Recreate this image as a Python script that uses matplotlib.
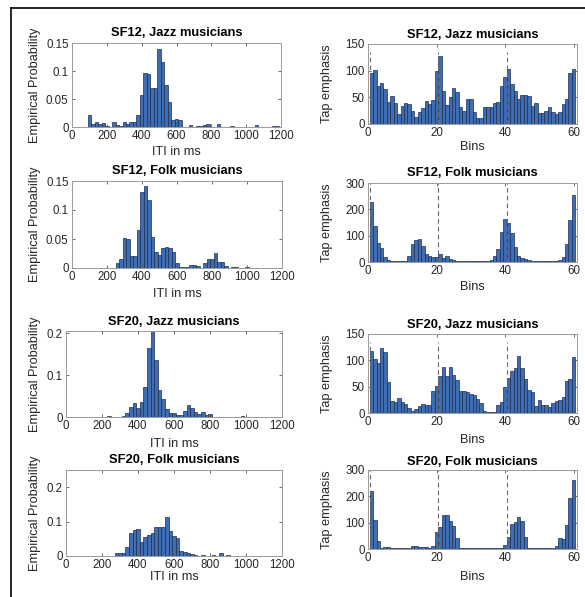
import numpy as np
import matplotlib.pyplot as plt
from matplotlib.lines import Line2D

# ITI histograms: 20 ms bins starting at 90 ms (55 bins)
iti_start = 90
iti_width = 20
sf12_jazz_iti = [0.022, 0.005, 0.009, 0.005, 0.007, 0.002, 0, 0.009, 0.004, 0.002,
                 0.009, 0.005, 0.009, 0.009, 0.022, 0.057, 0.097, 0.095, 0.07, 0.07,
                 0.14, 0.116, 0.075, 0.045, 0.013, 0.015, 0.013, 0, 0, 0.003,
                 0, 0.002, 0.002, 0.003, 0.005, 0, 0, 0.005, 0, 0,
                 0, 0.002, 0, 0, 0, 0, 0, 0, 0.004, 0,
                 0, 0, 0, 0.002, 0.002]
sf12_folk_iti = [0, 0, 0, 0, 0, 0, 0, 0, 0.008, 0.016,
                 0.052, 0.050, 0.021, 0.021, 0.066, 0.131, 0.141, 0.117, 0.054, 0.027,
                 0.023, 0.035, 0.036, 0.035, 0.027, 0.009, 0.002, 0.002, 0.002, 0.005,
                 0.005, 0.003, 0, 0.008, 0.015, 0.015, 0.026, 0.011, 0.010, 0.004,
                 0, 0.002, 0.002, 0, 0, 0.002, 0, 0, 0, 0,
                 0, 0, 0, 0, 0]
sf20_jazz_iti = [0, 0.001, 0.001, 0, 0.001, 0.001, 0, 0.003, 0.001, 0,
                 0, 0.003, 0.009, 0.025, 0.033, 0.021, 0.036, 0.071, 0.164, 0.205,
                 0.136, 0.065, 0.044, 0.020, 0.010, 0.010, 0.004, 0.004, 0.014, 0.029,
                 0.021, 0.012, 0.007, 0.011, 0.004, 0.007, 0, 0, 0, 0,
                 0, 0.001, 0, 0, 0.003, 0.001, 0, 0, 0.001, 0,
                 0, 0.001, 0, 0.001, 0.001]
sf20_folk_iti = [0.001, 0, 0, 0, 0, 0, 0, 0, 0, 0.010,
                 0.010, 0.009, 0.025, 0.066, 0.076, 0.078, 0.040, 0.054, 0.060, 0.068,
                 0.085, 0.085, 0.085, 0.113, 0.073, 0.058, 0.053, 0.015, 0.013, 0.010,
                 0.005, 0.002, 0, 0.002, 0, 0, 0.004, 0, 0.010, 0,
                 0.002, 0.001, 0, 0, 0, 0.001, 0.001, 0, 0, 0,
                 0, 0, 0, 0.001, 0]

# tap emphasis per bin (bins 1..60)
sf12_jazz_tap = [96, 102, 71, 77, 65, 41, 52, 39, 19, 34,
                 40, 38, 25, 13, 23, 30, 43, 38, 45, 99,
                 127, 61, 36, 51, 68, 60, 32, 25, 46, 47,
                 23, 12, 12, 31, 32, 32, 40, 42, 72, 89,
                 103, 75, 61, 47, 55, 54, 53, 33, 39, 21,
                 21, 25, 31, 23, 18, 23, 37, 47, 96, 104]
sf12_folk_tap = [226, 135, 74, 53, 19, 9, 5, 3, 3, 3,
                 5, 24, 68, 82, 87, 61, 30, 24, 20, 20,
                 30, 16, 23, 13, 8, 5, 4, 4, 3, 3,
                 3, 3, 3, 3, 4, 9, 24, 50, 115, 163,
                 147, 112, 56, 24, 15, 10, 8, 5, 3, 3,
                 3, 3, 3, 3, 5, 6, 20, 70, 160, 255]
sf20_jazz_tap = [118, 102, 94, 123, 116, 58, 23, 20, 28, 20,
                 18, 10, 4, 8, 13, 17, 15, 15, 42, 52,
                 70, 88, 70, 88, 73, 63, 41, 41, 39, 36,
                 35, 27, 19, 4, 2, 2, 2, 15, 20, 49,
                 66, 80, 86, 108, 86, 64, 43, 40, 14, 24,
                 16, 16, 11, 19, 22, 25, 31, 60, 65, 106]
sf20_folk_tap = [222, 111, 32, 5, 6, 6, 3, 2, 2, 2,
                 2, 3, 12, 10, 6, 6, 6, 4, 10, 64,
                 85, 128, 130, 107, 88, 40, 3, 2, 2, 2,
                 2, 2, 3, 2, 2, 3, 4, 5, 5, 17,
                 45, 95, 104, 120, 105, 44, 4, 2, 2, 2,
                 2, 2, 3, 3, 10, 40, 38, 92, 195, 262]
beat_bins = [0.5, 20.5, 40.5]

W, H = 585, 597
plt.rcParams['font.family'] = ['Liberation Sans', 'DejaVu Sans']
fig = plt.figure(figsize=(W / 100, H / 100), dpi=100)

bar_face = '#3F6DB4'
bar_edge = '#1C2E52'
txt = '#262626'


def add_px_axes(l, t, r, b):
    return fig.add_axes([l / W, 1 - b / H, (r - l) / W, (b - t) / H])


def style(ax, rect, title, xlabel, ylabel, title_y, xlabel_y, ylabel_x):
    l, t, r, b = rect
    h = b - t
    w = r - l
    for s in ax.spines.values():
        s.set_color('#9A9A9A')
        s.set_linewidth(0.7)
    ax.tick_params(direction='in', length=2.5, width=0.6, color='#555555',
                   top=True, right=True, labelsize=8.3, labelcolor=txt, pad=2.5)
    ax.text(0.5, (b - title_y) / h, title, transform=ax.transAxes, ha='center',
            va='center', fontsize=9.3, fontweight='bold', color='black')
    ax.set_xlabel(xlabel, fontsize=9.2, color=txt, va='center')
    ax.xaxis.set_label_coords(0.5, (b - xlabel_y) / h)
    ax.set_ylabel(ylabel, fontsize=9.2, color=txt, va='center')
    ax.yaxis.set_label_coords((ylabel_x - l) / w, 0.5)


left_panels = [
    (sf12_jazz_iti, 'SF12, Jazz musicians', (72, 43, 281, 127), 0.15, [0, 0.05, 0.1, 0.15], 33, 152),
    (sf12_folk_iti, 'SF12, Folk musicians', (72, 181, 282, 268), 0.15, [0, 0.05, 0.1, 0.15], 171, 294),
    (sf20_jazz_iti, 'SF20, Jazz musicians', (66, 331, 282, 417), 0.205, [0, 0.1, 0.2], 322, 444),
    (sf20_folk_iti, 'SF20, Folk musicians', (66, 470, 282, 556), 0.25, [0, 0.1, 0.2], 460, 577),
]
for vals, title, rect, ytop, yt, ty, xy in left_panels:
    ax = add_px_axes(*rect)
    x = iti_start + iti_width * np.arange(len(vals))
    ax.bar(x, vals, width=iti_width, align='edge', color=bar_face,
           edgecolor=bar_edge, linewidth=0.5)
    ax.set_xlim(0, 1200)
    ax.set_ylim(0, ytop)
    ax.set_xticks(range(0, 1201, 200))
    ax.set_yticks(yt)
    ax.set_yticklabels(['0' if v == 0 else ('%g' % v) for v in yt])
    style(ax, rect, title, 'ITI in ms', 'Empirical Probability', ty, xy, 35)

right_panels = [
    (sf12_jazz_tap, 'SF12, Jazz musicians', (368, 44, 577, 124), 150, 135, 35, 147),
    (sf12_folk_tap, 'SF12, Folk musicians', (368, 183, 577, 262), 300, 300, 173, 287),
    (sf20_jazz_tap, 'SF20, Jazz musicians', (368, 334, 577, 413), 150, 135, 325, 440),
    (sf20_folk_tap, 'SF20, Folk musicians', (368, 470, 577, 549), 300, 300, 462, 577),
]
for vals, title, rect, ytop, line_top, ty, xy in right_panels:
    ax = add_px_axes(*rect)
    bins = np.arange(1, len(vals) + 1)
    ax.bar(bins, vals, width=1.0, color=bar_face, edgecolor=bar_edge, linewidth=0.5)
    for bx in beat_bins:
        ax.plot([bx, bx], [0, line_top], color='#666666', ls=(0, (4, 3)), lw=0.8)
    ax.set_xlim(0, 61)
    ax.set_ylim(0, ytop)
    ax.set_xticks([0, 20, 40, 60])
    ax.set_yticks(range(0, ytop + 1, 50 if ytop == 150 else 100))
    style(ax, rect, title, 'Bins', 'Tap emphasis', ty, xy, 327)

# outer frame of the figure (top and left edges)
fig.add_artist(Line2D([11 / W, 1], [1 - 8 / H, 1 - 8 / H], color='black', lw=1.2))
fig.add_artist(Line2D([11 / W, 11 / W], [0, 1 - 8 / H], color='black', lw=1.2))

fig.savefig('out.png', dpi=100)
